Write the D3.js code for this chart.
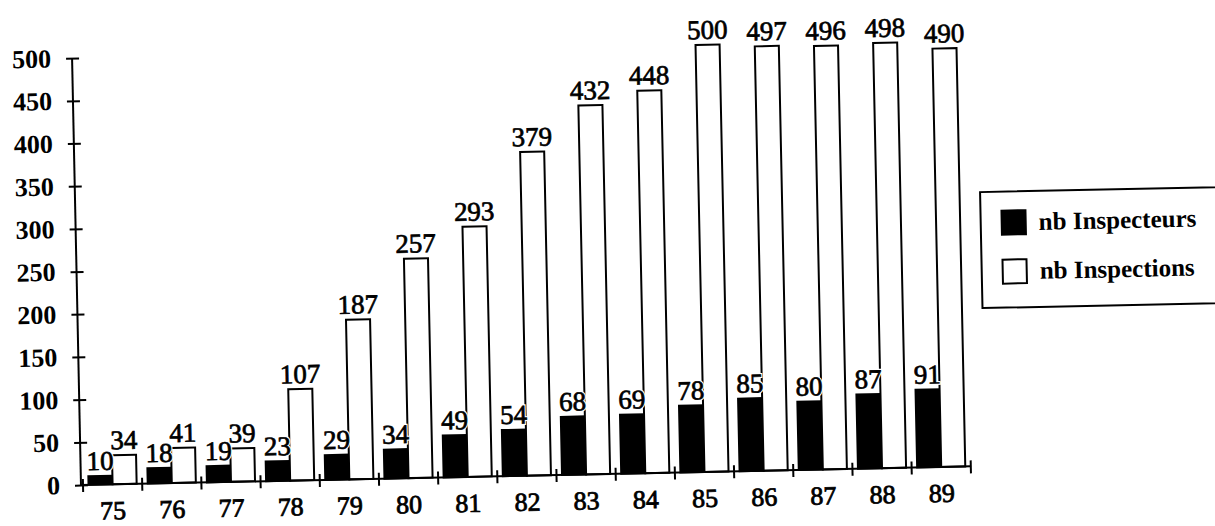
<!DOCTYPE html>
<html>
<head>
<meta charset="utf-8">
<script src="https://cdn.jsdelivr.net/npm/d3@7"></script>
<style>
  html, body { margin: 0; padding: 0; background: #fff; }
  svg { display: block; }
  text { font-family: "Liberation Serif", "Times New Roman", serif; fill: #000; }
</style>
</head>
<body>
<svg id="chart" width="1215" height="526"></svg>
<script>
// Inspecteurs et inspections par année (1975-1989)
const years = ["75", "76", "77", "78", "79", "80", "81", "82", "83", "84", "85", "86", "87", "88", "89"];
const inspecteurs = [10, 18, 19, 23, 29, 34, 49, 54, 68, 69, 78, 85, 80, 87, 91];
const inspections = [34, 41, 39, 107, 187, 257, 293, 379, 432, 448, 500, 497, 496, 498, 490];
const seriesNames = ["nb Inspecteurs", "nb Inspections"];
const yTicks = [0, 50, 100, 150, 200, 250, 300, 350, 400, 450, 500];

const svg = d3.select("#chart");

// The whole plot sits in a slightly tilted frame; origin at the axes corner.
const g = svg.append("g").attr("transform", "translate(81,485) rotate(-1.2)");

const x0 = d3.scaleBand().domain(years).range([2, 890]).padding(0);
const x1 = d3.scaleBand().domain(seriesNames).range([0, x0.bandwidth()])
  .paddingInner(0).paddingOuter(0.23);
const y = d3.scaleLinear().domain([0, 500]).range([0, -427]);

const rows = years.map((yr, i) => ({ year: yr, values: [
  { key: seriesNames[0], value: inspecteurs[i] },
  { key: seriesNames[1], value: inspections[i] }
]}));

// Bars
const groups = g.selectAll("g.year").data(rows).join("g")
  .attr("class", "year")
  .attr("transform", d => `translate(${x0(d.year)},0)`);

groups.selectAll("rect").data(d => d.values).join("rect")
  .attr("x", d => x1(d.key))
  .attr("y", d => y(d.value))
  .attr("width", x1.bandwidth())
  .attr("height", d => -y(d.value))
  .attr("fill", d => d.key === seriesNames[0] ? "#000" : "#fff")
  .attr("stroke", "#000")
  .attr("stroke-width", 2);

// Value labels: a white halo layer hides bar edges, then the inked text on top
const labelX = d => x1(d.key) + x1.bandwidth() / 2;
const labelY = d => y(d.value) - 6;
groups.selectAll("text.halo").data(d => d.values).join("text")
  .attr("class", "halo")
  .attr("x", labelX).attr("y", labelY)
  .attr("text-anchor", "middle")
  .attr("font-size", 27)
  .attr("fill", "#fff")
  .attr("stroke", "#fff")
  .attr("stroke-width", 3)
  .text(d => d.value);
groups.selectAll("text.val").data(d => d.values).join("text")
  .attr("class", "val")
  .attr("x", labelX).attr("y", labelY)
  .attr("text-anchor", "middle")
  .attr("font-size", 27)
  .attr("stroke", "#000")
  .attr("stroke-width", 0.7)
  .text(d => d.value);

// Y axis
const yAxis = d3.axisLeft(y).tickValues(yTicks).tickSize(6).tickPadding(15);
const ya = g.append("g").call(yAxis);
ya.select(".domain").attr("d", `M0,${y(0)}V${y(500)}`).attr("stroke", "#000").attr("stroke-width", 2);
ya.selectAll(".tick line").attr("x1", -6).attr("x2", 7).attr("stroke", "#000").attr("stroke-width", 2);
ya.selectAll(".tick text")
  .attr("font-family", "Liberation Serif")
  .attr("font-size", 26)
  .attr("font-weight", "bold")
  .attr("fill", "#000");

// X axis: ticks at category boundaries, labels at category centres
const xa = g.append("g");
xa.append("line")
  .attr("x1", 0).attr("x2", x0.range()[1])
  .attr("y1", 0).attr("y2", 0)
  .attr("stroke", "#000").attr("stroke-width", 2);
const bounds = years.map(yr => x0(yr)).concat([x0.range()[1]]);
xa.selectAll("line.tick").data(bounds).join("line")
  .attr("class", "tick")
  .attr("x1", d => d).attr("x2", d => d)
  .attr("y1", -6).attr("y2", 7)
  .attr("stroke", "#000").attr("stroke-width", 2);
xa.selectAll("text").data(years).join("text")
  .attr("x", d => x0(d) + x0.bandwidth() / 2)
  .attr("y", 35)
  .attr("text-anchor", "middle")
  .attr("font-size", 26)
  .attr("stroke", "#000")
  .attr("stroke-width", 0.8)
  .text(d => d);

// Legend
const lg = g.append("g");
lg.append("rect")
  .attr("x", 905).attr("y", -274)
  .attr("width", 400).attr("height", 116)
  .attr("fill", "#fff").attr("stroke", "#000").attr("stroke-width", 2);
const items = lg.selectAll("g.item").data(seriesNames).join("g")
  .attr("class", "item")
  .attr("transform", (d, i) => `translate(926,${-255 + i * 49})`);
items.append("rect")
  .attr("width", 24).attr("height", 24)
  .attr("fill", (d, i) => i === 0 ? "#000" : "#fff")
  .attr("stroke", "#000").attr("stroke-width", 2);
items.append("text")
  .attr("x", 37).attr("y", 20)
  .attr("font-size", 25)
  .attr("font-weight", "bold")
  .text(d => d);
</script>
</body>
</html>
